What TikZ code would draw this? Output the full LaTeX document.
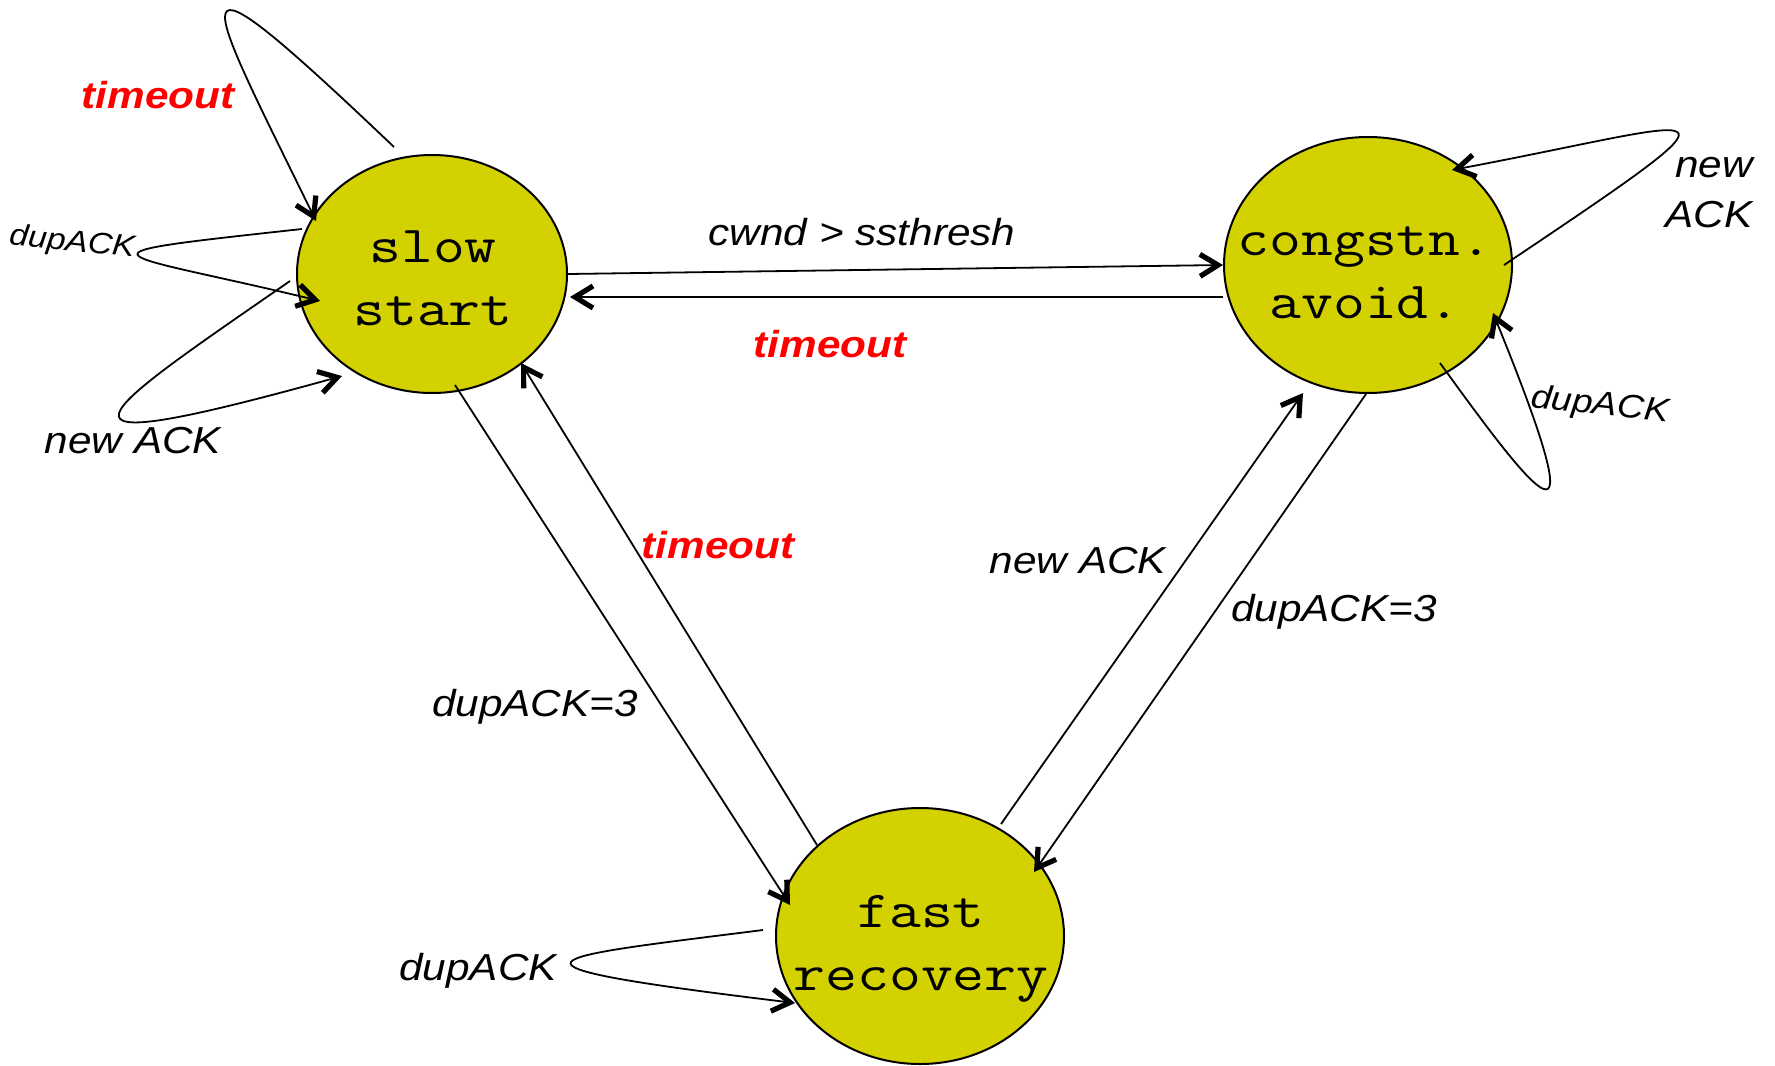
\documentclass[tikz,border=0pt]{standalone}
\usepackage{fontspec}
\setmainfont{Liberation Sans}[FakeStretch=1.125]
\usepackage{graphicx}
\usetikzlibrary{shapes.geometric,arrows.meta,calc}
\definecolor{stfill}{RGB}{212,209,0}
\tikzset{
  stnode/.style={ellipse, draw=black, line width=1pt, fill=stfill, inner sep=0pt},
  stxt/.style={anchor=base, inner sep=0pt, font=\fontsize{26}{31.5}\selectfont\ttfamily},
  lab/.style={inner sep=0pt, anchor=base, font=\fontsize{18.8}{22}\selectfont\itshape},
  smalllab/.style={inner sep=0pt, anchor=center, rotate=-6},
  tout/.style={lab, font=\fontsize{18.8}{22}\selectfont\bfseries\itshape, text=red},
  conn/.style={line width=0.9pt, -{Straight Barb[length=9pt,width=11pt,line width=2.6pt]}}
}
\newcommand{\stlines}[2]{\scalebox{1.19}[1]{\begin{tabular}[t]{@{}c@{}}#1\\#2\end{tabular}}}
\begin{document}
\begin{tikzpicture}[x=0.5pt,y=-0.5pt]
\useasboundingbox (0,0) rectangle (1775,1065);
% states
\node[stnode, minimum width=135pt, minimum height=119pt] (ss) at (432,274) {};
\node[stnode, minimum width=144pt, minimum height=128pt] (cc) at (1368,265) {};
\node[stnode, minimum width=144pt, minimum height=128pt] (fr) at (920,936) {};
\node[stxt] (sst) at (433,262) {\stlines{slow}{start}};
\node[stxt] (cct) at (1365,255) {\stlines{congstn.}{avoid.}};
\node[stxt] (frt) at (921,927) {\stlines{fast}{recovery}};
% straight transitions
\draw[conn] (ss.east) -- (cc.west);
\draw[conn] ($(cc)+(-145,32)$) -- ($(ss)+(138,23)$);
\draw[conn] ($(ss)+(23,111)$) -- ($(fr)+(-130,-31)$);
\draw[conn] ($(fr)+(-103,-91)$) -- ($(ss)+(89,89)$);
\draw[conn] ($(fr)+(81,-112)$) -- ($(cc)+(-65,128)$);
\draw[conn] ($(cc)+(-2,129)$) -- ($(fr)+(114,-64)$);
% self loops
\draw[conn] ($(ss)+(-38,-127)$) .. controls +(-229,-218) and +(-115,-235) .. ($(ss)+(-116,-53)$);
\draw[conn] ($(ss)+(-130,-45)$) .. controls +(-247,27) and +(-211,-51) .. ($(ss)+(-112,27)$);
\draw[conn] ($(ss)+(-142,7)$) .. controls +(-195,135) and +(-328,91) .. ($(ss)+(-90,102)$);
\draw[conn] ($(cc)+(136,0)$) .. controls +(267,-179) and +(261,-49) .. ($(cc)+(84,-95)$);
\draw[conn] ($(cc)+(72,98)$) .. controls +(94,130) and +(110,270) .. ($(cc)+(125,48)$);
\draw[conn] ($(fr)+(-157,-6)$) .. controls +(-221,28) and +(-331,-40) .. ($(fr)+(-125,67)$);
% labels
\node[tout] (l1) at (158,108) {timeout};
\node[smalllab, font=\fontsize{15}{18}\selectfont\itshape] (l2) at (72,243) {dupACK};
\node[lab] (l3) at (133,453) {new ACK};
\node[lab] (l4) at (862,245) {cwnd > ssthresh};
\node[tout] (l5) at (830,357) {timeout};
\node[tout] (l6) at (718,558) {timeout};
\node[lab] (l7) at (535,716) {dupACK=3};
\node[lab] (l8) at (1078,573) {new ACK};
\node[lab] (l9) at (1334,621) {dupACK=3};
\node[lab, anchor=base east] (l10) at (1753,177) {\begin{tabular}[t]{@{}r@{}}new\\[3pt]ACK\end{tabular}};
\node[smalllab, font=\fontsize{16.5}{19}\selectfont\itshape] (l11) at (1600,406) {dupACK};
\node[lab] (l12) at (478,980) {dupACK};
\end{tikzpicture}
\end{document}
